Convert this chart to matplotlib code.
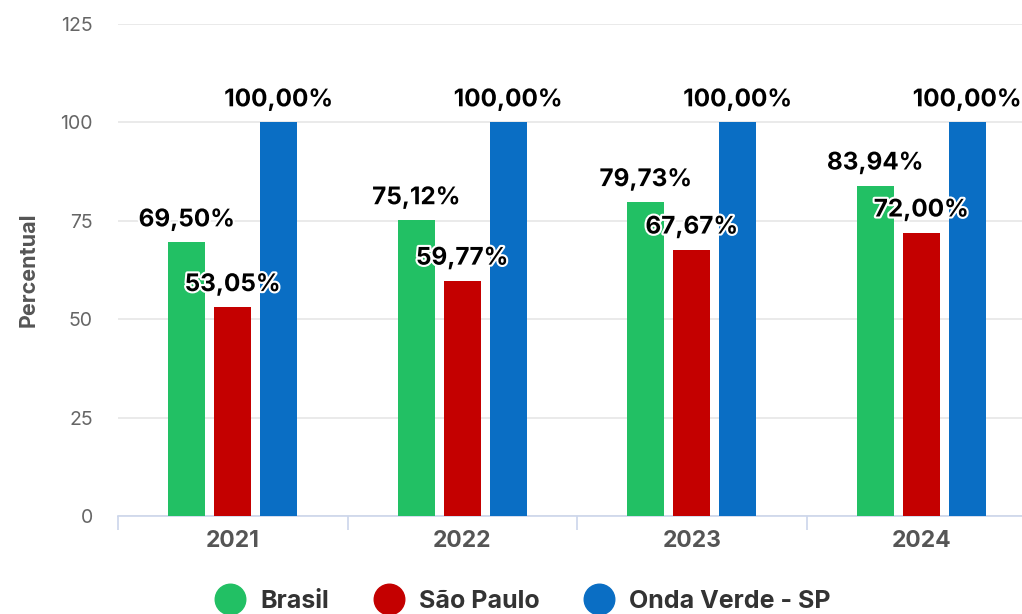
import numpy as np
import matplotlib.pyplot as plt
import matplotlib.patheffects as pe
from matplotlib.lines import Line2D

plt.rcParams['font.family'] = ['Inter', 'DejaVu Sans']

anos = ["2021", "2022", "2023", "2024"]
series = ["Brasil", "São Paulo", "Onda Verde - SP"]
brasil = [69.50, 75.12, 79.73, 83.94]
sao_paulo = [53.05, 59.77, 67.67, 72.00]
onda_verde = [100.00, 100.00, 100.00, 100.00]
cores = ["#22c064", "#c40000", "#0a6ec4"]

valores = [brasil, sao_paulo, onda_verde]

fig = plt.figure(figsize=(10.22, 6.14), dpi=100)
# plot area runs a bit past the right edge, like the source screenshot
ax = fig.add_axes([118 / 1022, 1 - 516 / 614, 918 / 1022, 492 / 614])

x = np.arange(len(anos))
largura = 0.161
passo = 0.2

contorno = [pe.withStroke(linewidth=3, foreground="white")]

for i, (vals, cor) in enumerate(zip(valores, cores)):
    pos = x + (i - 1) * passo
    ax.bar(pos, vals, width=largura, color=cor, zorder=3)
    for px, v in zip(pos, vals):
        txt = f"{v:.2f}".replace(".", ",") + "%"
        ax.annotate(txt, (px, v), xytext=(0, 8), textcoords="offset points",
                    ha="center", va="bottom", fontsize=17.5, fontweight="bold",
                    color="black", path_effects=contorno, zorder=5)

ax.set_xlim(-0.5, len(anos) - 0.5)
ax.set_ylim(0, 125)
ax.set_yticks([0, 25, 50, 75, 100, 125])
ax.yaxis.grid(True, color="#e6e6e6", linewidth=1.2, zorder=0)
ax.tick_params(axis="y", length=0, labelsize=14, labelcolor="#666666", pad=18)

ax.set_xticks(x)
ax.set_xticklabels(anos, fontsize=16.5, fontweight="bold", color="#555555")
ax.tick_params(axis="x", length=0, pad=10)
ax.set_xticks(np.arange(-0.5, len(anos) + 0.5, 1), minor=True)
ax.tick_params(axis="x", which="minor", length=10, color="#ccd6eb", width=1.2)

for lado in ["top", "right", "left"]:
    ax.spines[lado].set_visible(False)
ax.spines["bottom"].set_color("#ccd6eb")
ax.spines["bottom"].set_linewidth(1.2)

ax.set_ylabel("Percentual", fontsize=15.5, fontweight="bold", color="#555555", labelpad=16)

handles = [Line2D([], [], marker="o", linestyle="", markersize=22, color=c) for c in cores]
fig.legend(handles, series, loc="center", bbox_to_anchor=(518 / 1022, 1 - 601 / 614),
           ncol=3, frameon=False, handletextpad=0.2, columnspacing=1.4,
           prop={"size": 18, "weight": "bold"}, labelcolor="#333333")

fig.savefig("out.png", dpi=100)
